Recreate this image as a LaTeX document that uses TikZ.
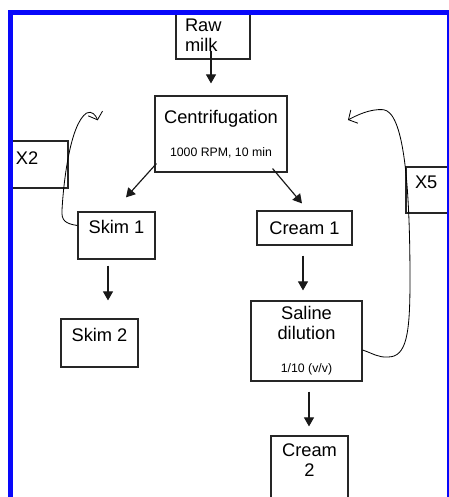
\documentclass[tikz,border=0pt]{standalone}
\usepackage{fontspec}
\setmainfont{Liberation Sans}
\usetikzlibrary{arrows.meta}
\definecolor{rimblue}{RGB}{8,8,250}
\newcommand\boxfont{\fontsize{15.6}{17}\selectfont}
\newcommand\notefont{\fontsize{10.5}{12}\selectfont}
\tikzset{
  stepbox/.style={draw=black!85, line width=1pt, fill=white, font=\boxfont, inner sep=0pt, align=center},
  flow/.style={line width=1pt, draw=black!90, -{Triangle[length=0.27cm, width=0.3cm]}},
  loopback/.style={line width=0.7pt, -{Straight Barb[length=0.2cm, width=0.45cm]}},
  rim/.style={fill=rimblue, draw=none},
}

\begin{document}
\begin{tikzpicture}
\useasboundingbox (0,0) rectangle (13.47,14.91);
\clip (0,0) rectangle (13.47,14.91);
\node[stepbox, minimum width=2.22cm, minimum height=1.41cm, inner xsep=0.27cm, text width=1.68cm, align=left] (raw) at (6.39,13.845) {Raw\\milk};
\node[stepbox, minimum width=3.96cm, minimum height=2.28cm] (centri) at (6.63,10.89) {Centrifugation\\[0.39cm]{\notefont 1000 RPM, 10 min}};
\node[stepbox, minimum width=1.74cm, minimum height=1.41cm, inner xsep=0.18cm, text width=1.38cm, align=left, text depth=0.39cm] (twice) at (1.17,9.975) {X2};
\node[stepbox, minimum width=2.31cm, minimum height=1.41cm, text depth=0.51cm] (skim1) at (3.495,7.845) {Skim 1};
\node[stepbox, minimum width=2.85cm, minimum height=1.02cm] (cream1) at (9.135,8.07) {Cream 1};
\node[stepbox, minimum width=1.42cm, minimum height=1.38cm, inner xsep=0.27cm, text width=0.88cm, align=left, text depth=0.48cm] (fivefold) at (12.89,9.21) {X5};
\node[stepbox, minimum width=2.31cm, minimum height=1.44cm, text depth=0.48cm] (skim2) at (2.985,4.62) {Skim 2};
\node[stepbox, minimum width=3.33cm, minimum height=2.40cm] (saline) at (9.195,4.68) {Saline\\dilution\\[0.4cm]{\notefont 1/10 (v/v)}};
\node[stepbox, minimum width=2.31cm, minimum height=2.13cm, text depth=0.66cm] (cream2) at (9.285,0.765) {Cream\\2};
% flow arrows
\draw[flow] ([shift={(-0.06,0.27)}]raw.south) -- ([shift={(-0.06,0.36)}]raw.south |- centri.north);
\draw[flow] ([shift={(0.06,0.27)}]centri.south west) -- ([shift={(0.285,0.42)}]skim1.north);
\draw[flow] ([shift={(-0.45,0.12)}]centri.south east) -- ([shift={(-0.075,0.21)}]cream1.north);
\draw[flow] ([shift={(-0.255,-0.18)}]skim1.south) -- ([shift={(-0.255,0.54)}]skim1.south |- skim2.north);
\draw[flow] ([shift={(-0.045,-0.30)}]cream1.south) -- ([shift={(-0.045,0.30)}]cream1.south |- saline.north);
\draw[flow] ([shift={(0.075,-0.30)}]saline.south) -- ([shift={(0.075,0.27)}]saline.south |- cream2.north);
% recycle loops
\coordinate (skimback) at (2.93,11.3);
\coordinate (creamback) at (10.44,11.31);
\draw[loopback] ([yshift=0.3cm]skim1.west) .. controls (1.95,8.2) and (1.84,8.3) .. (1.86,8.6) .. controls (1.9,9.4) and (2.1,11.2) .. (2.6,11.52) .. controls (2.75,11.6) and (2.88,11.45) .. (skimback);
\draw[loopback] ([yshift=-0.27cm]saline.east) .. controls (11.2,4.3) and (11.35,4.18) .. (11.64,4.2) .. controls (12.2,4.2) and (12.3,4.9) .. (12.3,6.5) .. controls (12.3,9.5) and (12.1,11.55) .. (11.5,11.62) .. controls (11.1,11.65) and (10.7,11.45) .. (creamback);
% frame
\fill[rim] (0.24,14.46) rectangle (13.47,14.61);
\fill[rim] (0.24,0) rectangle (0.39,14.61);
\fill[rim] (13.42,0) rectangle (13.46,14.61);
\end{tikzpicture}
\end{document}
